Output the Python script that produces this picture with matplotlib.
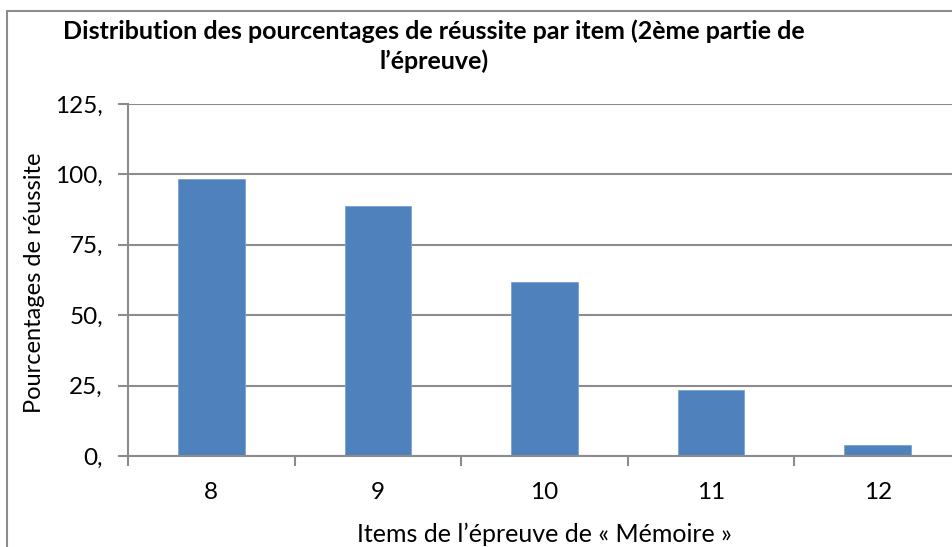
import matplotlib.pyplot as plt
from matplotlib.patches import Rectangle

# items and success percentages
items = ['8', '9', '10', '11', '12']
pourcentages = [98.3, 88.8, 61.8, 23.4, 3.8]
y_ticks = [0, 25, 50, 75, 100, 125]

plt.rcParams['font.family'] = ['Lato', 'DejaVu Sans']

fig = plt.figure(figsize=(9.53, 5.47), dpi=100)
ax = fig.add_axes([128 / 953, 91 / 547, 833 / 953, 352 / 547])

# chart frame (cut off at right/bottom in the original)
fig.patches.append(Rectangle((7 / 953, -0.1), 1.2, (547 - 11) / 547 + 0.1,
                             transform=fig.transFigure, fill=False,
                             edgecolor='#8c8c8c', linewidth=1.5))

x = range(len(items))
ax.bar(x, pourcentages, width=0.4, color='#4f81bd', edgecolor='#7ba0d0', linewidth=0.6, zorder=3)

ax.set_xlim(-0.5, len(items) - 0.5)
ax.set_ylim(0, 125)
ax.set_yticks(y_ticks)
ax.set_yticklabels([f'{v},' for v in y_ticks])
ax.set_xticks(list(x))
ax.set_xticklabels(items)
ax.set_xticks([i - 0.5 for i in range(len(items) + 1)], minor=True)
ax.tick_params(axis='x', which='major', length=0, pad=19, labelsize=17.5)
ax.tick_params(axis='x', which='minor', length=7, width=1.5, color='#8c8c8c', direction='out')
ax.tick_params(axis='y', length=7, width=1.5, color='#8c8c8c', pad=11, labelsize=17.5)

ax.grid(axis='y', color='#8c8c8c', linewidth=1.5, zorder=0)
for s in ['top', 'right']:
    ax.spines[s].set_visible(False)
for s in ['left', 'bottom']:
    ax.spines[s].set_color('#8c8c8c')
    ax.spines[s].set_linewidth(1.5)
    ax.spines[s].set_zorder(4)

fig.text(434 / 953, 1 - 46 / 547, "Distribution des pourcentages de réussite par item (2ème partie de\nl\u2019épreuve)",
         ha='center', va='center', fontsize=18, fontweight='bold', linespacing=1.3)
fig.text(35 / 953, 1 - 283 / 547, 'Pourcentages de réussite', rotation=90,
         ha='center', va='center', fontsize=17)
fig.text(544 / 953, 1 - 534 / 547, 'Items de l\u2019épreuve de « Mémoire »',
         ha='center', va='center', fontsize=18)

plt.savefig('out.png', dpi=100)
plt.close()
